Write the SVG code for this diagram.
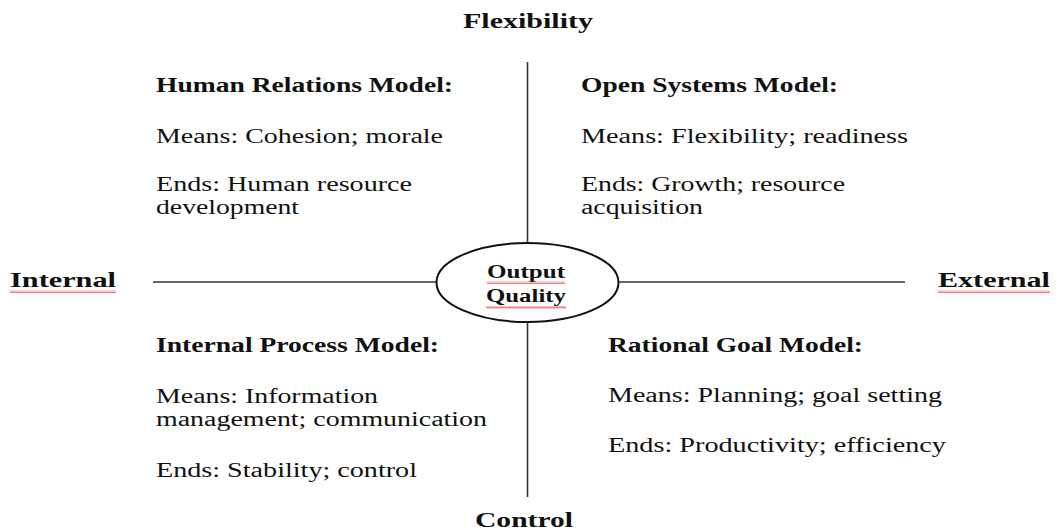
<svg xmlns="http://www.w3.org/2000/svg" width="1056" height="532" viewBox="0 0 1056 532">
<defs>
<pattern id="wavy" x="0" y="0" width="4" height="3" patternUnits="userSpaceOnUse">
<polyline points="0,2.5 1,0.5 2,2.5 3,0.5 4,2.5" fill="none" stroke="#e85a5a" stroke-width="0.8"/>
</pattern>
</defs>
<style>
text{font-family:"Liberation Serif","Times New Roman",serif;fill:#111;}
.body{font-size:20px;}
.head{font-size:20px;font-weight:bold;}
.axis{font-size:22px;font-weight:bold;}
.center{font-size:18px;font-weight:bold;}
.line{stroke:#333;stroke-width:1.6;fill:none;}
.wave{fill:url(#wavy);}
</style>
<rect width="1056" height="532" fill="#fff"/>
<g id="connectors">
<line class="line" x1="527.5" y1="62" x2="527.5" y2="243"/>
<line class="line" x1="527.5" y1="322" x2="527.5" y2="497"/>
<line class="line" x1="153" y1="282" x2="436" y2="282"/>
<line class="line" x1="619" y1="282" x2="905" y2="282"/>
</g>
<g id="flexibility">
<text class="axis" x="463" y="28" textLength="130" lengthAdjust="spacingAndGlyphs">Flexibility</text>
</g>
<g id="control">
<text class="axis" x="475" y="527" textLength="98" lengthAdjust="spacingAndGlyphs">Control</text>
</g>
<g id="internal">
<text class="axis" x="10" y="287" textLength="106" lengthAdjust="spacingAndGlyphs">Internal</text>
<rect class="wave" x="10" y="290" width="106" height="3"/>
</g>
<g id="external">
<text class="axis" x="938" y="287" textLength="112" lengthAdjust="spacingAndGlyphs">External</text>
<rect class="wave" x="938" y="290" width="112" height="3"/>
</g>
<g id="output-quality">
<ellipse cx="527.5" cy="282.5" rx="91" ry="39.5" fill="#fff" stroke="#111" stroke-width="2"/>
<text class="center" x="487" y="278" textLength="78" lengthAdjust="spacingAndGlyphs">Output</text>
<rect class="wave" x="487" y="281" width="78" height="3"/>
<text class="center" x="486" y="302" textLength="80" lengthAdjust="spacingAndGlyphs">Quality</text>
<rect class="wave" x="486" y="306" width="80" height="3"/>
</g>
<g id="human-relations">
<text class="head" x="156" y="92" textLength="297" lengthAdjust="spacingAndGlyphs">Human  Relations Model:</text>
<text class="body" x="156" y="143" textLength="287" lengthAdjust="spacingAndGlyphs">Means: Cohesion; morale</text>
<text class="body" x="156" y="191" textLength="256" lengthAdjust="spacingAndGlyphs">Ends: Human resource</text>
<text class="body" x="156" y="214" textLength="143" lengthAdjust="spacingAndGlyphs">development</text>
</g>
<g id="open-systems">
<text class="head" x="581" y="92" textLength="257" lengthAdjust="spacingAndGlyphs">Open Systems Model:</text>
<text class="body" x="581" y="143" textLength="327" lengthAdjust="spacingAndGlyphs">Means: Flexibility; readiness</text>
<text class="body" x="581" y="191" textLength="264" lengthAdjust="spacingAndGlyphs">Ends: Growth; resource</text>
<text class="body" x="581" y="214" textLength="122" lengthAdjust="spacingAndGlyphs">acquisition</text>
</g>
<g id="internal-process">
<text class="head" x="156" y="352" textLength="283" lengthAdjust="spacingAndGlyphs">Internal  Process Model:</text>
<text class="body" x="156" y="403" textLength="222" lengthAdjust="spacingAndGlyphs">Means: Information</text>
<text class="body" x="156" y="426" textLength="331" lengthAdjust="spacingAndGlyphs">management; communication</text>
<text class="body" x="156" y="477" textLength="261" lengthAdjust="spacingAndGlyphs">Ends: Stability; control</text>
</g>
<g id="rational-goal">
<text class="head" x="608" y="352" textLength="255" lengthAdjust="spacingAndGlyphs">Rational  Goal Model:</text>
<text class="body" x="608" y="402" textLength="334" lengthAdjust="spacingAndGlyphs">Means: Planning; goal setting</text>
<text class="body" x="608" y="452" textLength="338" lengthAdjust="spacingAndGlyphs">Ends: Productivity; efficiency</text>
</g>
</svg>
